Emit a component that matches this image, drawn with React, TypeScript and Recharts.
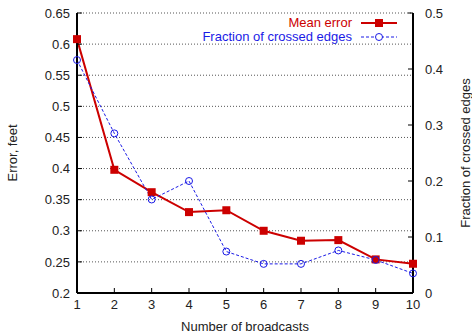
import React from 'react'
import {
  LineChart,
  Line,
  XAxis,
  YAxis,
  CartesianGrid,
  Label,
} from 'recharts'

const broadcasts = [1, 2, 3, 4, 5, 6, 7, 8, 9, 10]
const meanError = [0.608, 0.398, 0.362, 0.33, 0.333, 0.3, 0.284, 0.285, 0.254, 0.247]
const crossedFraction = [0.416, 0.285, 0.167, 0.2, 0.074, 0.052, 0.052, 0.076, 0.059, 0.035]
const errorTicks = [0.2, 0.25, 0.3, 0.35, 0.4, 0.45, 0.5, 0.55, 0.6, 0.65]
const fractionTicks = [0, 0.1, 0.2, 0.3, 0.4, 0.5]

const RED = '#cc0000'
const BLUE = '#1a1ae6'
const FONT = '"Liberation Sans", Arial, Helvetica, sans-serif'

const data = broadcasts.map((n, i) => ({
  n,
  error: meanError[i],
  fraction: crossedFraction[i],
}))

const SquareDot = (props: any) => {
  const { cx, cy, index } = props
  if (cx == null || cy == null) return null
  return <rect key={`sq-${index}`} x={cx - 4} y={cy - 4} width={8} height={8} fill={RED} />
}

const CircleDot = (props: any) => {
  const { cx, cy, index } = props
  if (cx == null || cy == null) return null
  return <circle key={`ci-${index}`} cx={cx} cy={cy} r={3.5} fill="none" stroke={BLUE} strokeWidth={1} />
}

// legend drawn as an overlay, top right inside the plot box
const LegendBox = () => (
  <div
    style={{
      position: 'absolute',
      top: 16,
      left: 0,
      width: 397,
      fontFamily: FONT,
      fontSize: 13,
      lineHeight: '14px',
    }}
  >
    <div style={{ display: 'flex', justifyContent: 'flex-end', alignItems: 'center' }}>
      <span style={{ color: RED }}>Mean error</span>
      <svg width={36} height={14} style={{ marginLeft: 9 }}>
        <line x1={0} y1={7} x2={36} y2={7} stroke={RED} strokeWidth={2} />
        <rect x={14} y={3} width={8} height={8} fill={RED} />
      </svg>
    </div>
    <div style={{ display: 'flex', justifyContent: 'flex-end', alignItems: 'center' }}>
      <span style={{ color: BLUE }}>Fraction of crossed edges</span>
      <svg width={36} height={14} style={{ marginLeft: 9 }}>
        <line x1={0} y1={7} x2={36} y2={7} stroke={BLUE} strokeWidth={1} strokeDasharray="3 2" />
        <circle cx={18} cy={7} r={3.5} fill="white" stroke={BLUE} strokeWidth={1} />
      </svg>
    </div>
  </div>
)

const tickStyle = { fill: '#222', fontSize: 13, fontFamily: FONT }
const axisLine = { stroke: '#000', strokeWidth: 2 }
const tickLine = { stroke: '#000', strokeWidth: 1 }

export default function App() {
  return (
    <div style={{ position: 'absolute', left: 0, top: 0, width: 472, height: 334, background: '#fff' }}>
      <LineChart
        width={472}
        height={334}
        data={data}
        margin={{ top: 13, right: 9, bottom: 11, left: 17 }}
      >
        <CartesianGrid
          yAxisId="left"
          vertical={false}
          stroke="#555"
          strokeDasharray="1 2"
        />
        <XAxis
          dataKey="n"
          type="number"
          domain={[1, 10]}
          ticks={broadcasts}
          height={30}
          tickSize={-5}
          tickMargin={12}
          tick={tickStyle}
          axisLine={axisLine}
          tickLine={tickLine}
        >
          <Label
            content={() => (
              <text x={245} y={331} textAnchor="middle" fontSize={13} fontFamily={FONT} fill="#222">
                Number of broadcasts
              </text>
            )}
          />
        </XAxis>
        <XAxis
          xAxisId="top"
          orientation="top"
          dataKey="n"
          type="number"
          domain={[1, 10]}
          ticks={broadcasts}
          height={0}
          tickSize={-5}
          tick={false}
          axisLine={axisLine}
          tickLine={tickLine}
        />
        <YAxis
          yAxisId="left"
          domain={[0.2, 0.65]}
          ticks={errorTicks}
          tickFormatter={(v: number) => String(+v.toFixed(2))}
          width={60}
          tickSize={-5}
          tickMargin={12}
          tick={tickStyle}
          axisLine={axisLine}
          tickLine={tickLine}
          allowDataOverflow
        >
          <Label
            content={() => (
              <text
                x={17}
                y={153}
                transform="rotate(-90 17 153)"
                textAnchor="middle"
                fontSize={13}
                fontFamily={FONT}
                fill="#222"
              >
                Error, feet
              </text>
            )}
          />
        </YAxis>
        <YAxis
          yAxisId="right"
          orientation="right"
          domain={[0, 0.5]}
          ticks={fractionTicks}
          tickFormatter={(v: number) => String(+v.toFixed(1))}
          width={50}
          tickSize={-5}
          tickMargin={17}
          tick={tickStyle}
          axisLine={axisLine}
          tickLine={tickLine}
          allowDataOverflow
        >
          <Label
            content={() => (
              <text
                x={470}
                y={153}
                transform="rotate(-90 470 153)"
                textAnchor="middle"
                fontSize={13}
                fontFamily={FONT}
                fill="#222"
              >
                Fraction of crossed edges
              </text>
            )}
          />
        </YAxis>
        <Line
          yAxisId="left"
          dataKey="error"
          stroke={RED}
          strokeWidth={2}
          dot={SquareDot}
          activeDot={false}
          isAnimationActive={false}
        />
        <Line
          yAxisId="right"
          dataKey="fraction"
          stroke={BLUE}
          strokeWidth={1}
          strokeDasharray="3 2"
          dot={CircleDot}
          activeDot={false}
          isAnimationActive={false}
        />
      </LineChart>
      <LegendBox />
    </div>
  )
}
